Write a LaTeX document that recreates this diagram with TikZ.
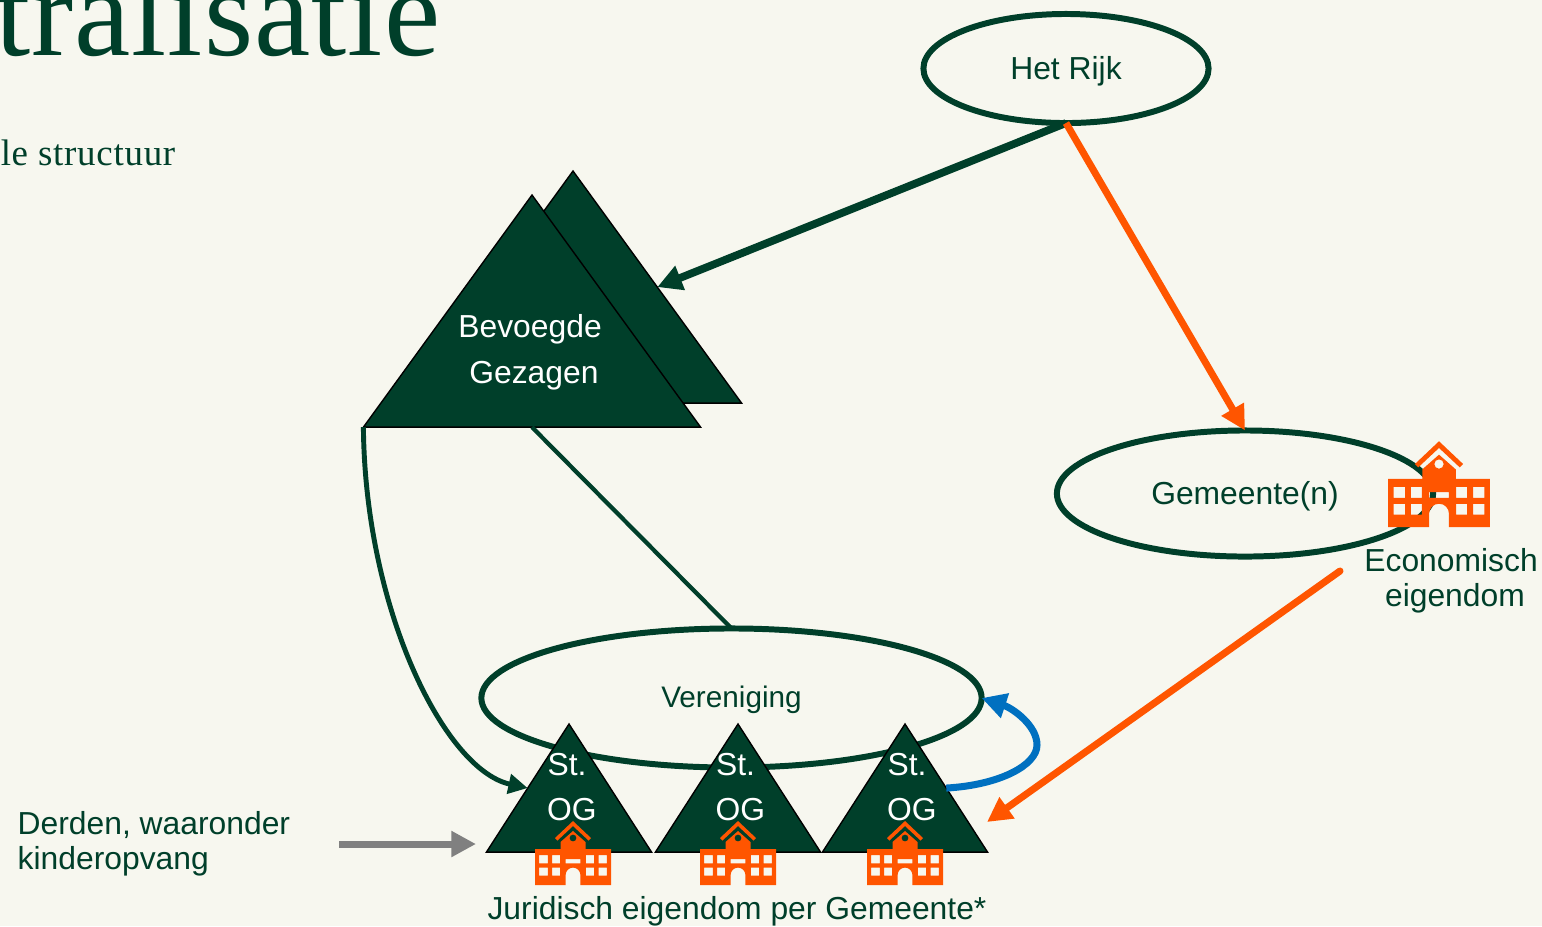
\documentclass[tikz,border=0pt]{standalone}
\usepackage{fontspec}
\setmainfont{Liberation Sans}
\newfontfamily\titlefont[LetterSpace=0.8]{Liberation Serif}
\newfontfamily\subfont[LetterSpace=2]{Liberation Serif}
\usetikzlibrary{arrows.meta,shapes.geometric}
\definecolor{dgreen}{HTML}{003F2A}
\definecolor{orange}{HTML}{FF5500}
\definecolor{blue}{HTML}{0070C0}
\definecolor{paper}{HTML}{F7F7EF}
\newcommand{\stog}{St.\hspace*{1.4pt}\\\hspace*{1.4pt}OG}
\tikzset{
	oval/.style={ellipse,draw=dgreen,line width=1.7pt,inner sep=0pt,outer sep=0pt,text=dgreen,text height=7pt,text depth=.5pt,font=\fontsize{9.05}{11}\selectfont},
	tri/.style={isosceles triangle,isosceles triangle stretches,shape border rotate=90,draw=black,line width=.4pt,fill=dgreen,inner sep=0pt,outer sep=0pt,anchor=apex},
	smalltri/.style={tri,minimum width=1.65cm,minimum height=1.28cm},
	bigtri/.style={tri,minimum width=3.37cm,minimum height=2.32cm},
	lbl/.style={text=dgreen,align=center,font=\fontsize{9.05}{10}\selectfont},
	trilbl/.style={text=white,align=center,font=\fontsize{9.05}{13}\selectfont},
	greenarrow/.style={draw=dgreen,line width=2.2pt,-{Triangle[length=7pt,width=7pt]}},
	orangearrow/.style={draw=orange,line width=2pt,-{Triangle[length=7pt,width=7pt]}},
	school/.pic={
		\fill[orange,even odd rule]
		(-38,0) -- (-38,-36) -- (-12.5,-36) -- (-12.5,-43) -- (0,-54) -- (12.5,-43) -- (12.5,-36) -- (38,-36) -- (38,0) -- (7.4,0) -- (7.4,-10) arc (0:-180:7.4) -- (-7.4,0) -- cycle
		(0,-47) circle (3.5)
		(-33.8,-30) rectangle (-25.2,-21.7)
		(-21,-30) rectangle (-12.8,-21.7)
		(12.8,-30) rectangle (21,-21.7)
		(25.5,-30) rectangle (33.8,-21.7)
		(-33.8,-17.3) rectangle (-25.2,-9.3)
		(-21,-17.3) rectangle (-12.8,-9.3)
		(12.8,-17.3) rectangle (21,-9.3)
		(25.5,-17.3) rectangle (33.8,-9.3)
		(-7.4,-26) rectangle (7.4,-21.7);
		\fill[orange] (0,-64) -- (18,-47) -- (15.5,-44.5) -- (0,-59) -- (-15.5,-44.5) -- (-18,-47) -- cycle;
	}
}
\begin{document}
\begin{tikzpicture}[x=0.01cm,y=-0.01cm]
	\useasboundingbox (0,0) rectangle (1542,926);
	\fill[paper] (0,0) rectangle (1542,926);
	\node[anchor=base east,text=dgreen,inner sep=0pt,font=\titlefont\fontsize{36}{36}\selectfont] (title) at (441,55) {tralisatie};
	\node[anchor=base east,text=dgreen,inner sep=0pt,font=\subfont\fontsize{10.5}{11}\selectfont] (sub) at (176,165) {le structuur};
	\node[oval,minimum width=2.85cm,minimum height=1.09cm] (rijk) at (1066,68.5) {Het Rijk};
	\node[oval,minimum width=3.76cm,minimum height=1.26cm,text height=6.5pt] (gem) at (1245,493.5) {Gemeente(n)};
	\node[oval,minimum width=5cm,minimum height=1.39cm,text height=6pt,font=\fontsize{8.45}{10}\selectfont] (ver) at (731.5,698) {Vereniging};
	\node[bigtri] (gezagb) at (573,171) {};
	\node[bigtri] (gezag) at (532,195) {};
	\node[smalltri] (a) at (569,724) {};
	\node[smalltri] (b) at (738,724) {};
	\node[smalltri] (c) at (905,724) {};
	\node[trilbl] (gezagt) at (532,352) {Bevoegde\hspace*{1.1pt}\\\hspace*{1.1pt}Gezagen};
	\node[trilbl] (at) at (569.5,787) {\stog};
	\node[trilbl] (bt) at (738,787) {\stog};
	\node[trilbl] (ct) at (909.5,787) {\stog};
	\pic (sa) at (573,885) {school};
	\pic (sb) at (738,885) {school};
	\pic (sc) at (905,885) {school};
	\pic[scale=1.34] (sgem) at (1439,527) {school};
	\node[lbl] (eco) at (1453,581) {Economisch\hspace*{1.1pt}\\\hspace*{1.1pt}eigendom};
	\node[lbl,align=left,anchor=west,inner sep=0pt] (derden) at (17,843.5) {Derden, waaronder\\kinderopvang};
	\node[lbl] (jur) at (737,911.5) {Juridisch eigendom per Gemeente*};
	\coordinate (greystart) at (339,844);
	\coordinate (greyend) at (476,844);
	\coordinate (ecostart) at (1340,571);
	\coordinate (ecoend) at (987,822);
	\path (rijk.south) edge[greenarrow] (gezagb.right side);
	\path (rijk.south) edge[orangearrow] (gem.north);
	\path (gezag.lower side) edge[draw=dgreen,line width=1.2pt] (ver.north);
	\path (greystart) edge[draw=gray,line width=2pt,-{Triangle[length=7pt,width=7pt]}] (greyend);
	\draw[orangearrow,line cap=round] (ecostart) -- (ecoend);
	\draw[dgreen,line width=1.4pt,-{Triangle[length=5.5pt,width=5.5pt]}] (gezag.left corner) .. controls (365,610) and (445,770) .. (a.left side);
	\draw[blue,line width=2pt,-{Triangle[length=7pt,width=7pt]}] (c.right side) .. controls (1000,785) and (1037,765) .. (1037,745) .. controls (1037,725) and (1012,708) .. (ver.east);
\end{tikzpicture}
\end{document}
